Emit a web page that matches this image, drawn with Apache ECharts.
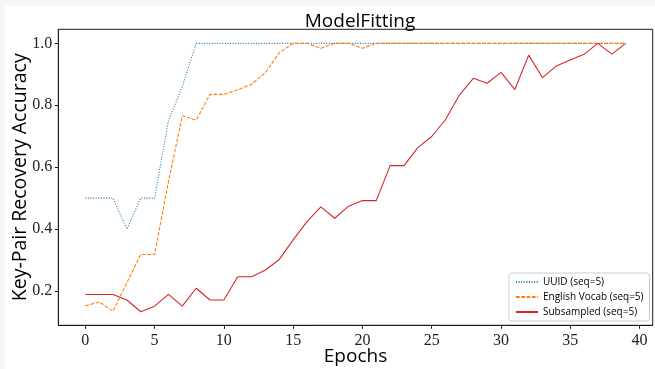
<!DOCTYPE html>
<html>
<head>
<meta charset="utf-8">
<script src="https://cdn.jsdelivr.net/npm/echarts@6/dist/echarts.min.js"></script>
<style>
  html, body { margin: 0; padding: 0; background: #f6f6f6; }
  #chart { position: absolute; left: 5px; top: 6px; width: 650px; height: 363px; background: #ffffff; }
</style>
</head>
<body>
<div id="chart"></div>
<script>
const epochs = Array.from({length: 40}, (_, i) => i);
const xTicks = [0, 5, 10, 15, 20, 25, 30, 35, 40];
const yTicks = [0.2, 0.4, 0.6, 0.8, 1.0];

const uuid = [0.50, 0.50, 0.50, 0.40, 0.50, 0.50, 0.75, 0.86, 1.00, 1.00,
              1.00, 1.00, 1.00, 1.00, 1.00, 1.00, 1.00, 1.00, 1.00, 1.00,
              1.00, 1.00, 1.00, 1.00, 1.00, 1.00, 1.00, 1.00, 1.00, 1.00,
              1.00, 1.00, 1.00, 1.00, 1.00, 1.00, 1.00, 1.00, 1.00, 1.00];
const english = [0.152, 0.165, 0.135, 0.227, 0.318, 0.318, 0.553, 0.766, 0.752, 0.835,
                 0.835, 0.850, 0.868, 0.905, 0.970, 1.00, 1.00, 0.984, 1.00, 1.00,
                 0.984, 1.00, 1.00, 1.00, 1.00, 1.00, 1.00, 1.00, 1.00, 1.00,
                 1.00, 1.00, 1.00, 1.00, 1.00, 1.00, 1.00, 1.00, 1.00, 1.00];
const subsampled = [0.189, 0.189, 0.189, 0.171, 0.133, 0.151, 0.189, 0.151, 0.209, 0.171,
                    0.171, 0.246, 0.246, 0.268, 0.302, 0.365, 0.424, 0.472, 0.435, 0.474,
                    0.492, 0.492, 0.605, 0.605, 0.663, 0.699, 0.754, 0.833, 0.887, 0.871,
                    0.906, 0.851, 0.962, 0.889, 0.927, 0.946, 0.965, 1.00, 0.965, 1.00];

const pair = arr => epochs.map((e, i) => [e, arr[i]]);
const sans = "'Open Sans', 'DejaVu Sans', sans-serif";
const serif = "'Liberation Serif', 'DejaVu Serif', serif";

const chart = echarts.init(document.getElementById('chart'), null, {renderer: 'canvas'});
chart.setOption({
  animation: false,
  backgroundColor: '#ffffff',
  title: {
    text: 'ModelFitting',
    left: 350, top: 1, textAlign: 'center',
    textStyle: { fontFamily: sans, fontSize: 19, fontWeight: 'normal', color: '#000' }
  },
  grid: {
    left: 53.3, right: 2.3, top: 23.3, bottom: 43.7,
    show: true, borderColor: '#1a1a1a', borderWidth: 1,
    containLabel: false, outerBoundsMode: 'none'
  },
  legend: {
    orient: 'vertical', left: 504, top: 267,
    padding: [4, 6, 4, 6], itemGap: 5, itemWidth: 22, itemHeight: 10,
    itemStyle: { opacity: 0 },
    backgroundColor: 'rgba(255,255,255,0.8)', borderColor: '#cccccc', borderWidth: 1, borderRadius: 3,
    textStyle: { fontFamily: sans, fontSize: 10, color: '#000' },
    data: ['UUID (seq=5)', 'English Vocab (seq=5)', 'Subsampled (seq=5)']
  },
  xAxis: {
    type: 'value', min: -1.95, max: 40.95,
    name: 'Epochs', nameLocation: 'middle', nameGap: 31, nameMoveOverlap: false,
    nameTextStyle: { fontFamily: sans, fontSize: 19, color: '#000', verticalAlign: 'middle' },
    axisLine: { show: true, onZero: false, lineStyle: { color: '#1a1a1a', width: 1 } },
    axisTick: { show: true, customValues: xTicks, length: 3.5, lineStyle: { color: '#1a1a1a' } },
    axisLabel: { customValues: xTicks, margin: 7, fontFamily: serif, fontSize: 16, color: '#222' },
    splitLine: { show: false }
  },
  yAxis: {
    type: 'value', min: 0.0893, max: 1.0453,
    name: 'Key-Pair Recovery Accuracy', nameLocation: 'middle', nameGap: 38, nameMoveOverlap: false,
    nameTextStyle: { fontFamily: sans, fontSize: 19.5, color: '#000', verticalAlign: 'middle' },
    axisLine: { show: true, onZero: false, lineStyle: { color: '#1a1a1a', width: 1 } },
    axisTick: { show: true, customValues: yTicks, length: 3.5, lineStyle: { color: '#1a1a1a' } },
    axisLabel: { customValues: yTicks, margin: 6, fontFamily: serif, fontSize: 16, color: '#222',
                 formatter: v => v.toFixed(1) },
    splitLine: { show: false }
  },
  series: [
    { name: 'UUID (seq=5)', type: 'line', data: pair(uuid), showSymbol: false, symbol: 'none',
      color: '#1f77b4', lineStyle: { color: '#1f77b4', width: 1.1, type: [1, 1.6] } },
    { name: 'English Vocab (seq=5)', type: 'line', data: pair(english), showSymbol: false, symbol: 'none',
      color: '#ff7f0e', lineStyle: { color: '#ff7f0e', width: 1.1, type: [3.7, 1.6] } },
    { name: 'Subsampled (seq=5)', type: 'line', data: pair(subsampled), showSymbol: false, symbol: 'none',
      color: '#d62728', lineStyle: { color: '#d62728', width: 1.1 } }
  ]
});
</script>
</body>
</html>
